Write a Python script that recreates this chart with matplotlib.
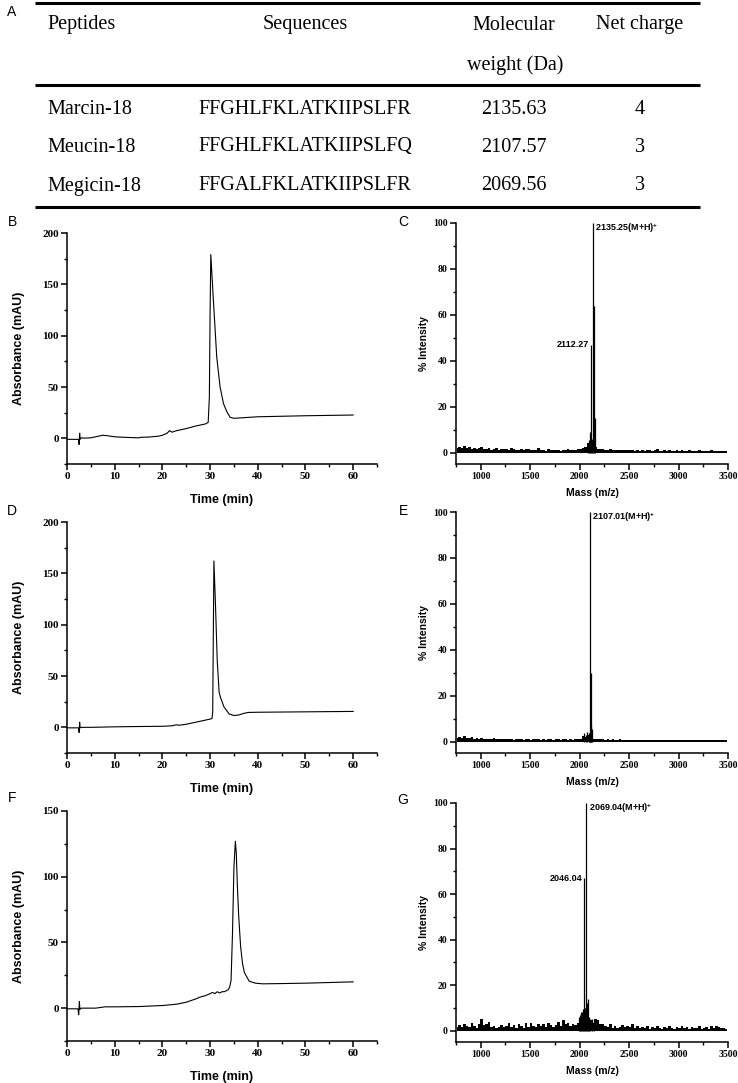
import numpy as np
import matplotlib
matplotlib.use('Agg')
import matplotlib.pyplot as plt
from matplotlib.ticker import MultipleLocator

plt.rcParams['font.family'] = 'Liberation Serif'
plt.rcParams['font.weight'] = 'bold'
plt.rcParams['mathtext.default'] = 'regular'

W, H = 738, 1083

# ---- table (panel A)
headers = ['Peptides', 'Sequences', 'Molecular', 'Net charge']
peptides = ['Marcin-18', 'Meucin-18', 'Megicin-18']
sequences = ['FFGHLFKLATKIIPSLFR', 'FFGHLFKLATKIIPSLFQ', 'FFGALFKLATKIIPSLFR']
mol_weight = ['2135.63', '2107.57', '2069.56']
net_charge = ['4', '3', '3']

# ---- HPLC chromatograms (time in min, absorbance in mAU)
t_b = [0, 2.4, 2.55, 2.65, 2.75, 3.0, 3.5, 5, 6, 6.5, 7.5, 8.5, 10, 12, 15, 15.5, 17, 19, 20,
       21, 21.5, 22, 23, 25, 27, 29, 29.6, 29.85, 30.0, 30.15, 30.7, 31.4, 32.1, 32.8, 33.5,
       34.2, 35, 40, 50, 60]
abs_b = [-1, -1, -6, 5, -1, 0.5, 0.2, 0.5, 1.5, 2, 3, 2.5, 1.5, 1, 0.5, 1, 1.2, 2, 3,
         5, 7.5, 6, 7.5, 9.5, 12, 14, 15.5, 40, 120, 179, 134, 79, 50, 34, 26,
         20.5, 19.5, 21, 22, 22.7]

t_d = [0, 2.4, 2.55, 2.65, 2.75, 3, 5, 10, 15, 20, 22, 23, 23.5, 25, 27, 29, 30.4, 30.55,
       30.7, 30.8, 31.1, 31.5, 31.9, 32.2, 32.9, 34, 35, 36, 37, 38, 40, 60]
abs_d = [-0.5, -0.5, -5, 5, -0.5, 0, 0, 0.5, 0.8, 1, 1.5, 2.5, 2, 3, 5, 7, 8.5, 15,
         100, 162, 124, 65, 34, 29, 20, 13, 11.5, 12, 13.5, 14.5, 14.7, 15.5]

t_f = [0, 2.3, 2.45, 2.6, 2.7, 3, 6, 8, 10, 15, 20, 23, 25, 27, 28, 29, 30, 30.5, 31, 31.5,
       32, 32.5, 33, 33.8, 34.1, 34.4, 34.7, 35.0, 35.3, 35.5, 35.7, 36.0, 36.4, 36.8, 37.2,
       38.2, 39.5, 41, 45, 50, 60]
abs_f = [-0.5, -0.5, -5, 5, -1, 0, 0, 1, 1, 1.2, 2, 3, 4.5, 7, 8.5, 9.5, 11, 12, 11, 12.5,
         11.5, 12.5, 12.5, 14, 16, 21, 57, 107, 127, 118, 95, 70, 47, 34, 27,
         20.5, 19, 18.5, 18.7, 19, 20]

# ---- MALDI-TOF spectra: baseline noise every 25 Da from 760, plus main peaks
noise_start, noise_step = 760, 25
noise_c = [1.8, 2.3, 1.9, 2.9, 2.0, 2.4, 1.7, 2.1, 1.6, 1.9,
           2.3, 1.7, 1.5, 2.0, 1.3, 1.6, 1.8, 1.2, 1.7, 1.4,
           1.5, 1.1, 1.9, 1.4, 1.2, 1.1, 1.6, 1.0, 1.4, 1.7,
           1.0, 1.3, 0.9, 1.8, 1.1, 1.2, 0.8, 1.4, 1.0, 0.9,
           1.2, 1.1, 0.8, 1.3, 1.0, 1.4, 1.1, 0.9, 1.2, 1.5,
           1.4, 1.8, 2.6, 4.0, 5.2, 4.4, 2.2, 1.4, 1.7, 1.6,
           1.3, 1.1, 1.4, 1.0, 1.2, 0.9, 1.3, 1.0, 1.1, 1.2,
           0.9, 1.1, 0.8, 1.0, 0.7, 1.2, 0.8, 0.9, 1.1, 0.7,
           1.0, 1.5, 0.8, 0.7, 0.9, 0.8, 1.0, 0.7, 0.8, 0.9,
           0.7, 0.9, 0.6, 0.8, 1.0, 0.7, 0.8, 0.6, 0.9, 0.7,
           0.8, 0.6, 0.7, 0.9, 0.6, 0.8, 0.7, 0.6, 0.8, 0.7]
peaks_c_mz = [2085, 2095, 2103, 2112.27, 2125, 2135.25, 2143, 2155]
peaks_c_int = [3.5, 5.5, 9, 47, 6, 100, 64, 15]

noise_e = [1.6, 2.0, 1.5, 2.2, 1.7, 1.4, 1.8, 1.3, 1.5, 1.2,
           1.4, 1.1, 1.3, 1.0, 1.2, 1.4, 0.9, 1.1, 1.3, 1.0,
           1.1, 0.9, 1.2, 0.8, 1.0, 1.2, 0.9, 0.8, 1.1, 0.9,
           0.8, 1.0, 0.9, 1.1, 0.8, 1.0, 0.7, 0.9, 1.1, 0.8,
           0.9, 1.0, 0.8, 1.1, 0.9, 0.8, 1.0, 0.8, 0.9, 1.1,
           1.2, 2.2, 2.0, 2.7, 1.4, 1.1, 1.3, 1.0, 1.2, 0.9,
           0.8, 1.0, 0.7, 0.9, 0.8, 0.7, 0.9, 0.6, 0.8, 0.7,
           0.7, 0.6, 0.8, 0.7, 0.6, 0.8, 0.7, 0.6, 0.7, 0.8,
           0.6, 0.7, 0.5, 0.8, 0.6, 0.7, 0.6, 0.5, 0.7, 0.6,
           0.6, 0.5, 0.7, 0.6, 0.5, 0.6, 0.7, 0.5, 0.6, 0.5,
           0.6, 0.5, 0.6, 0.7, 0.5, 0.6, 0.5, 0.6, 0.5, 0.6]
peaks_e_mz = [2045, 2060, 2075, 2090, 2100, 2107.01, 2111, 2117, 2125]
peaks_e_int = [3.5, 3, 4, 3.5, 4.5, 100, 30, 7, 5.5]

noise_g = [1.5, 2.5, 1.8, 3.0, 2.2, 1.5, 3.5, 2.0, 1.2, 2.8,
           5.0, 2.5, 3.0, 4.0, 1.5, 2.2, 1.0, 1.8, 2.6, 1.4,
           2.0, 3.2, 1.5, 2.5, 1.2, 3.0, 2.0, 1.3, 3.5, 1.8,
           3.5, 2.2, 1.5, 3.0, 2.0, 2.8, 1.6, 3.2, 2.4, 1.8,
           2.5, 4.0, 2.0, 4.5, 2.8, 3.2, 2.0, 3.0, 2.6, 3.5,
           4.5, 5.0, 4.0, 6.0, 4.5, 3.5, 5.0, 4.5, 3.0, 2.8,
           2.2, 1.5, 3.0, 1.2, 2.0, 1.0, 1.8, 2.5, 1.5, 2.2,
           1.5, 2.8, 1.2, 2.0, 1.0, 1.6, 1.2, 2.0, 0.8, 1.4,
           1.0, 2.0, 1.2, 0.8, 1.5, 1.0, 2.2, 1.2, 0.9, 1.6,
           1.2, 2.0, 1.0, 1.4, 0.8, 1.8, 1.0, 1.2, 2.0, 0.9,
           1.0, 1.4, 0.8, 2.0, 1.2, 2.2, 1.6, 1.0, 1.2, 0.6]
peaks_g_mz = [1990, 2000, 2012, 2022, 2032, 2046.04, 2056, 2069.04, 2075, 2082, 2092, 2105, 2125, 2150]
peaks_g_int = [6, 7, 8, 8, 9.5, 67, 10, 100, 12, 14, 6, 5, 5, 4.5]


def rect(l, t, r, b):
    return [l / W, 1 - b / H, (r - l) / W, (b - t) / H]


fig = plt.figure(figsize=(W / 100, H / 100), dpi=100)

sans = 'Liberation Sans'

# table drawn in a pixel-coordinate axes
tab = fig.add_axes([0, 1 - 212 / H, 1, 212 / H])
tab.set_xlim(0, W)
tab.set_ylim(212, 0)
tab.axis('off')
for y in [3, 85, 207]:
    tab.hlines(y, 35, 700, color='k', lw=2.2)
tkw = dict(fontsize=14.5, fontweight='normal', va='center', family='Liberation Serif')
tab.text(47, 25, headers[0], ha='left', **tkw)
tab.text(305, 25, headers[1], ha='center', **tkw)
tab.text(514, 25, headers[2], ha='center', **tkw)
tab.text(515, 65, 'weight (Da)', ha='center', **tkw)
tab.text(640, 25, headers[3], ha='center', **tkw)
for y, p, s, m, c in zip([109, 147, 186], peptides, sequences, mol_weight, net_charge):
    tab.text(47, y, p, ha='left', **tkw)
    tab.text(305, y, s, ha='center', **tkw)
    tab.text(514, y, m, ha='center', **tkw)
    tab.text(640, y, c, ha='center', **tkw)


def style(ax, fs):
    ax.spines['top'].set_visible(False)
    ax.spines['right'].set_visible(False)
    for s in ['left', 'bottom']:
        ax.spines[s].set_linewidth(1.1)
    ax.tick_params(which='major', direction='out', length=4, width=1.1, labelsize=fs, pad=2)
    ax.tick_params(which='minor', direction='out', length=2.5, width=1.0)


def place_labels(ax, box, dy, ylab_x):
    cx = (box[0] + box[2]) / 2
    cy = (box[1] + box[3]) / 2
    ax.xaxis.set_label_coords(cx / W, 1 - (box[3] + dy) / H, transform=fig.transFigure)
    ax.yaxis.set_label_coords(ylab_x / W, 1 - cy / H, transform=fig.transFigure)


def chrom(box, t, a, ymax):
    ax = fig.add_axes(rect(*box))
    ax.plot(t, a, color='k', lw=0.8)
    ax.set_xlim(0, 65)
    ax.set_ylim(-25, ymax)
    ax.xaxis.set_major_locator(MultipleLocator(10))
    ax.xaxis.set_minor_locator(MultipleLocator(5))
    ax.yaxis.set_major_locator(MultipleLocator(50))
    ax.yaxis.set_minor_locator(MultipleLocator(25))
    style(ax, 8)
    ax.set_xlabel('Time (min)', family=sans, fontsize=9, fontweight='bold')
    ax.set_ylabel('Absorbance (mAU)', family=sans, fontsize=9, fontweight='bold')
    place_labels(ax, box, 30, 25)
    return ax


def spec(box, noise, pk_mz, pk_int):
    ax = fig.add_axes(rect(*box))
    mz = noise_start + noise_step * np.arange(len(noise))
    ax.fill_between(mz, 0, noise, step='mid', color='k', lw=0)
    ax.vlines(pk_mz, 0, pk_int, color='k', lw=0.9)
    ax.set_xlim(750, 3500)
    ax.set_ylim(-5, 100)
    ax.xaxis.set_major_locator(MultipleLocator(500))
    ax.xaxis.set_minor_locator(MultipleLocator(250))
    ax.yaxis.set_major_locator(MultipleLocator(20))
    ax.yaxis.set_minor_locator(MultipleLocator(10))
    style(ax, 7)
    ax.set_xlabel('Mass (m/z)', family=sans, fontsize=7.5, fontweight='bold')
    ax.set_ylabel('% Intensity', family=sans, fontsize=7.5, fontweight='bold')
    place_labels(ax, box, 24, 429)
    return ax


def label_peak(ax, x, y, txt, right):
    if right:
        ax.annotate(txt, xy=(x, y), xytext=(1.5, 1), textcoords='offset points',
                    ha='left', va='top', family=sans, fontsize=6.5, fontweight='bold')
    else:
        ax.annotate(txt, xy=(x, y), xytext=(-1.5, 0), textcoords='offset points',
                    ha='right', va='center', family=sans, fontsize=6.5, fontweight='bold')


chrom((67, 233, 377, 464), t_b, abs_b, 200)
chrom((67, 522, 377, 753), t_d, abs_d, 200)
chrom((67, 811, 377, 1041), t_f, abs_f, 150)

ax_c = spec((456, 223, 728, 464), noise_c, peaks_c_mz, peaks_c_int)
label_peak(ax_c, 2135.25, 100, '2135.25(M+H)$^{+}$', True)
label_peak(ax_c, 2112.27, 47, '2112.27', False)
ax_e = spec((456, 512, 728, 753), noise_e, peaks_e_mz, peaks_e_int)
label_peak(ax_e, 2107.01, 100, '2107.01(M+H)$^{+}$', True)
ax_g = spec((456, 803, 728, 1042), noise_g, peaks_g_mz, peaks_g_int)
label_peak(ax_g, 2069.04, 100, '2069.04(M+H)$^{+}$', True)
label_peak(ax_g, 2046.04, 67, '2046.04', False)

# panel letters
for letter, x, y in [('A', 12, 12), ('B', 12, 222), ('C', 403, 222), ('D', 12, 511),
                     ('E', 403, 511), ('F', 12, 798), ('G', 403, 800)]:
    fig.text(x / W, 1 - y / H, letter, family=sans, fontsize=10, fontweight='normal',
             ha='center', va='center')

fig.savefig('out.png', dpi=100)
